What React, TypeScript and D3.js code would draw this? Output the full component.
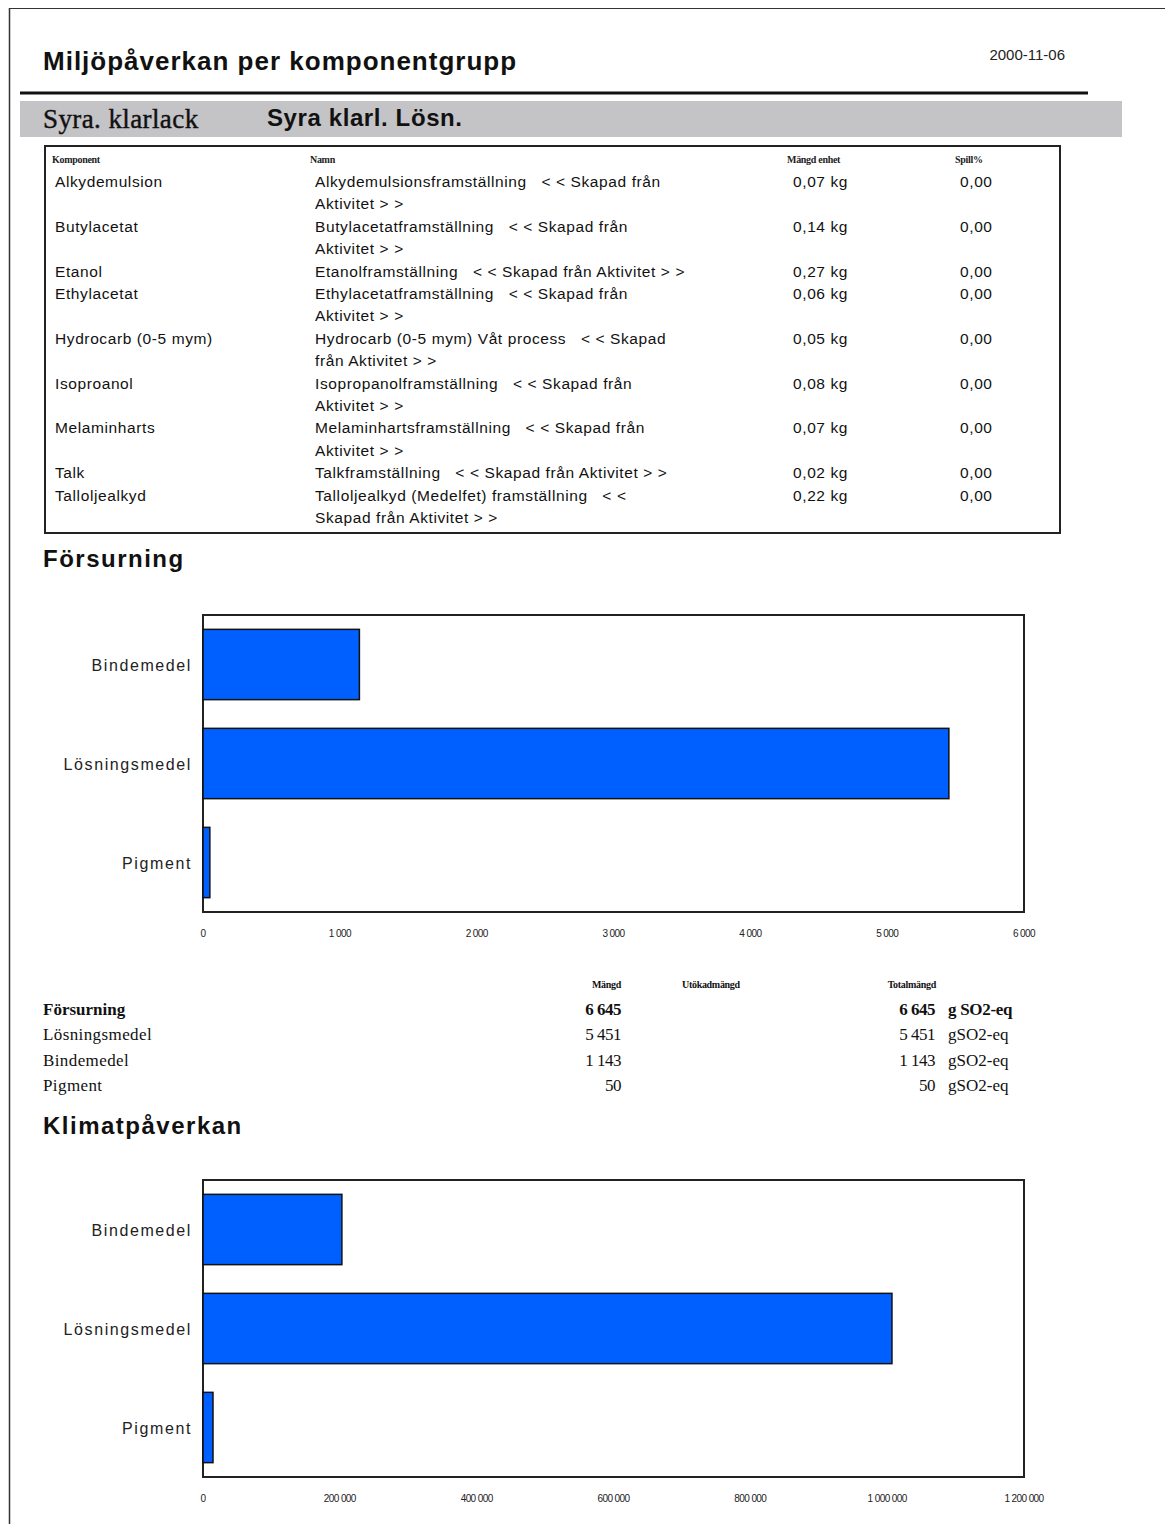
import React from 'react';
import * as d3 from 'd3';

// rapportens data
const reportTitle = 'Miljöpåverkan per komponentgrupp';
const reportDate = '2000-11-06';
const productName = 'Syra. klarlack';
const recipeName = 'Syra klarl. Lösn.';

const tableHeaders = ['Komponent', 'Namn', 'Mängd enhet', 'Spill%'];
const componentNames = [
  'Alkydemulsion',
  'Butylacetat',
  'Etanol',
  'Ethylacetat',
  'Hydrocarb (0-5 mym)',
  'Isoproanol',
  'Melaminharts',
  'Talk',
  'Talloljealkyd',
];
const processNames = [
  ['Alkydemulsionsframställning   < < Skapad från', 'Aktivitet > >'],
  ['Butylacetatframställning   < < Skapad från', 'Aktivitet > >'],
  ['Etanolframställning   < < Skapad från Aktivitet > >'],
  ['Ethylacetatframställning   < < Skapad från', 'Aktivitet > >'],
  ['Hydrocarb (0-5 mym) Våt process   < < Skapad', 'från Aktivitet > >'],
  ['Isopropanolframställning   < < Skapad från', 'Aktivitet > >'],
  ['Melaminhartsframställning   < < Skapad från', 'Aktivitet > >'],
  ['Talkframställning   < < Skapad från Aktivitet > >'],
  ['Talloljealkyd (Medelfet) framställning   < <', 'Skapad från Aktivitet > >'],
];
const amounts = ['0,07 kg', '0,14 kg', '0,27 kg', '0,06 kg', '0,05 kg', '0,08 kg', '0,07 kg', '0,02 kg', '0,22 kg'];
const spillValues = ['0,00', '0,00', '0,00', '0,00', '0,00', '0,00', '0,00', '0,00', '0,00'];

const groups = ['Bindemedel', 'Lösningsmedel', 'Pigment'];
const acidValues = [1143, 5451, 50];
const climateValues = [203000, 1007000, 14600];

const summaryHeaders = ['Mängd', 'Utökadmängd', 'Totalmängd'];
const acidTotal = 6645;
const summaryOrder = ['Lösningsmedel', 'Bindemedel', 'Pigment'];
const unit = 'g SO2-eq';

const sv = d3.formatLocale({ decimal: ',', thousands: ' ', grouping: [3], currency: ['', ' kr'] });
const fmt = sv.format(',d');

const SANS = '"Liberation Sans", Arial, sans-serif';
const SERIF = '"Liberation Serif", "Times New Roman", serif';
const BLUE = '#0060ff';

function BarChart({ top, values, max, tickCount }: { top: number; values: number[]; max: number; tickCount: number }) {
  const left = 203;
  const right = 1024;
  const height = 297;
  const x = d3.scaleLinear().domain([0, max]).range([left, right]);
  const y = d3.scaleBand<string>().domain(groups).range([top, top + height]).paddingInner(0.29).paddingOuter(0.145);
  const ticks = x.ticks(tickCount);
  return (
    <g>
      <rect x={left} y={top} width={right - left} height={height} fill="#fff" stroke="#222" strokeWidth={2} />
      {groups.map((g, i) => (
        <g key={g}>
          <rect
            x={x(0)}
            y={y(g)!}
            width={x(values[i]) - x(0)}
            height={y.bandwidth()}
            fill={BLUE}
            stroke="#111"
            strokeWidth={1.5}
          />
          <text
            x={192}
            y={y(g)! + y.bandwidth() / 2 + 6}
            textAnchor="end"
            fontFamily={SANS}
            fontSize={16}
            letterSpacing={1.6}
            fill="#222"
          >
            {g}
          </text>
        </g>
      ))}
      {ticks.map((t) => (
        <text
          key={t}
          x={x(t)}
          y={top + height + 25}
          textAnchor="middle"
          fontFamily={SANS}
          fontSize={10}
          letterSpacing={-0.6}
          fill="#222"
        >
          {fmt(t)}
        </text>
      ))}
    </g>
  );
}

export default function App() {
  // tabellrader, en rad per textlinje
  const lineH = 22.4;
  let line = 0;
  const rows = componentNames.map((name, i) => {
    const start = line;
    line += processNames[i].length;
    return { name, start, lines: processNames[i], amount: amounts[i], spill: spillValues[i] };
  });
  const firstBase = 187;

  const summaryRows = summaryOrder.map((g) => ({ name: g, value: acidValues[groups.indexOf(g)] }));

  return (
    <div style={{ position: 'absolute', left: 0, top: 0 }}>
      <svg width={1165} height={1524} style={{ display: 'block', background: '#fff' }}>
        {/* sidans ram */}
        <line x1={9} y1={8.5} x2={1165} y2={8.5} stroke="#333" strokeWidth={1} />
        <line x1={9.5} y1={8} x2={9.5} y2={1524} stroke="#333" strokeWidth={1.5} />

        <text x={43} y={70} fontFamily={SANS} fontSize={26} fontWeight="bold" fill="#111" letterSpacing={1}>
          {reportTitle}
        </text>
        <text x={1065} y={60} textAnchor="end" fontFamily={SANS} fontSize={15} letterSpacing={0} fill="#222">
          {reportDate}
        </text>
        <line x1={20} y1={93} x2={1088} y2={93} stroke="#111" strokeWidth={3} />
        <rect x={20} y={101} width={1102} height={36} fill="#c4c3c6" />
        <text x={43} y={128} fontFamily={SERIF} fontSize={27} fill="#111" stroke="#111" strokeWidth={0.4} letterSpacing={0.4}>
          {productName}
        </text>
        <text x={267} y={126} fontFamily={SANS} fontSize={24} fontWeight="bold" fill="#111" letterSpacing={0.6}>
          {recipeName}
        </text>

        {/* komponenttabell */}
        <rect x={45} y={146} width={1015} height={387} fill="none" stroke="#222" strokeWidth={2} />
        {[52, 310, 787, 955].map((cx, i) => (
          <text key={i} x={cx} y={163} fontFamily={SERIF} fontSize={10} fontWeight="bold" fill="#222" letterSpacing={-0.3}>
            {tableHeaders[i]}
          </text>
        ))}
        {rows.map((r) => (
          <g key={r.name} fontFamily={SANS} fontSize={15.5} fill="#111" letterSpacing={0.6}>
            <text x={55} y={firstBase + r.start * lineH}>{r.name}</text>
            {r.lines.map((l, k) => (
              <text key={k} x={315} y={firstBase + (r.start + k) * lineH} style={{ whiteSpace: 'pre' }}>
                {l}
              </text>
            ))}
            <text x={793} y={firstBase + r.start * lineH}>{r.amount}</text>
            <text x={960} y={firstBase + r.start * lineH}>{r.spill}</text>
          </g>
        ))}

        {/* Försurning */}
        <text x={43} y={567} fontFamily={SANS} fontSize={24} fontWeight="bold" fill="#111" letterSpacing={1.5}>
          Försurning
        </text>
        <BarChart top={615} values={acidValues} max={6000} tickCount={6} />

        {/* sammanställning */}
        <g fontFamily={SERIF} fill="#111">
          <text x={621} y={988} textAnchor="end" fontSize={10} fontWeight="bold" letterSpacing={-0.3}>{summaryHeaders[0]}</text>
          <text x={682} y={988} fontSize={10} fontWeight="bold" letterSpacing={-0.3}>{summaryHeaders[1]}</text>
          <text x={936} y={988} textAnchor="end" fontSize={10} fontWeight="bold" letterSpacing={-0.3}>{summaryHeaders[2]}</text>

          <text x={43} y={1015} fontSize={17} fontWeight="bold" letterSpacing={0}>Försurning</text>
          <text x={621} y={1015} textAnchor="end" fontSize={17} fontWeight="bold" letterSpacing={-0.5}>{fmt(acidTotal)}</text>
          <text x={935} y={1015} textAnchor="end" fontSize={17} fontWeight="bold" letterSpacing={-0.5}>{fmt(acidTotal)}</text>
          <text x={948} y={1015} fontSize={17} fontWeight="bold" letterSpacing={-0.3}>{unit}</text>
          {summaryRows.map((r, i) => (
            <g key={r.name}>
              <text x={43} y={1040 + i * 25.5} fontSize={17} letterSpacing={0.4}>{r.name}</text>
              <text x={621} y={1040 + i * 25.5} textAnchor="end" fontSize={17} letterSpacing={-0.5}>{fmt(r.value)}</text>
              <text x={935} y={1040 + i * 25.5} textAnchor="end" fontSize={17} letterSpacing={-0.5}>{fmt(r.value)}</text>
              <text x={948} y={1040 + i * 25.5} fontSize={17} letterSpacing={0}>{unit.replace(' ', '')}</text>
            </g>
          ))}
        </g>

        {/* Klimatpåverkan */}
        <text x={43} y={1134} fontFamily={SANS} fontSize={24} fontWeight="bold" fill="#111" letterSpacing={1.5}>
          Klimatpåverkan
        </text>
        <BarChart top={1180} values={climateValues} max={1200000} tickCount={6} />
      </svg>
    </div>
  );
}
